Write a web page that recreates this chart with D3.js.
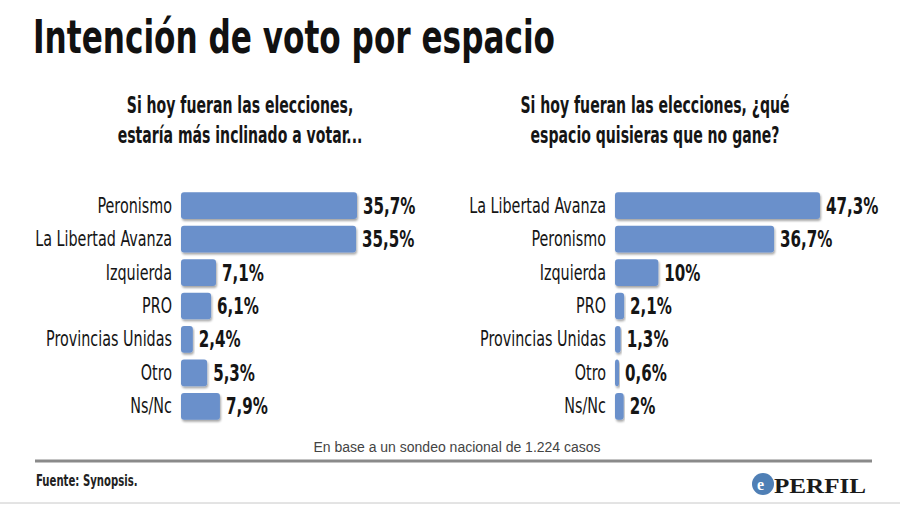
<!DOCTYPE html>
<html><head><meta charset="utf-8">
<script src="https://cdn.jsdelivr.net/npm/d3@7"></script>
<style>body{margin:0;background:#fff}svg{display:block}</style>
</head><body><svg id="c" width="900" height="505"></svg>
<script>
const leftCats=["Peronismo","La Libertad Avanza","Izquierda","PRO","Provincias Unidas","Otro","Ns/Nc"];
const leftVals=[35.7,35.5,7.1,6.1,2.4,5.3,7.9];
const leftLabels=["35,7%","35,5%","7,1%","6,1%","2,4%","5,3%","7,9%"];
const rightCats=["La Libertad Avanza","Peronismo","Izquierda","PRO","Provincias Unidas","Otro","Ns/Nc"];
const rightVals=[47.3,36.7,10,2.1,1.3,0.6,2];
const rightLabels=["47,3%","36,7%","10%","2,1%","1,3%","0,6%","2%"];

const svg=d3.select("#c");
const F="'DejaVu Sans Condensed','DejaVu Sans',sans-serif";
const defs=svg.append("defs");
const f=defs.append("filter").attr("id","sh").attr("x","-5%").attr("y","-20%").attr("width","115%").attr("height","160%");
f.append("feDropShadow").attr("dx",1).attr("dy",2).attr("stdDeviation",1.2).attr("flood-color","#000").attr("flood-opacity",0.35);

function T(parent,x,y,str,o){
  const g=parent.append("g").attr("transform",`translate(${x},${y}) scale(${o.sx||1},1)`);
  return g.append("text").attr("text-anchor",o.anchor||"start").attr("font-family",o.family||F)
    .attr("font-weight",o.bold?"bold":"normal").attr("font-size",o.size).attr("fill",o.fill||"#151515").text(str);
}

svg.append("text").attr("x",33).attr("y",53).attr("font-family",F).attr("font-weight","bold")
 .attr("font-size",46).attr("fill","#111").attr("textLength",522).attr("lengthAdjust","spacingAndGlyphs")
 .text("Intención de voto por espacio");

function panel(cats,vals,labels,x0,xMaxPx,maxV,cx,sub){
  const x=d3.scaleLinear().domain([0,maxV]).range([x0,xMaxPx]);
  const y=d3.scaleBand().domain(cats).range([189,423]).paddingInner(0.2).paddingOuter(0.1);
  sub.forEach((s,i)=>T(svg,cx,113+i*30,s,{anchor:"middle",bold:true,size:23,sx:0.68}));
  const g=svg.append("g");
  g.selectAll("rect").data(vals).join("rect").attr("x",x0).attr("y",(d,i)=>y(cats[i]))
   .attr("width",d=>Math.max(4,x(d)-x0)).attr("height",y.bandwidth()).attr("rx",3)
   .attr("fill","#6a90cb").attr("filter","url(#sh)");
  cats.forEach(c=>T(g,x0-9,y(c)+y.bandwidth()/2+7,c,{anchor:"end",size:21,sx:0.76}));
  vals.forEach((d,i)=>T(g,x0+Math.max(4,x(d)-x0)+6,y(cats[i])+y.bandwidth()/2+8,labels[i],{bold:true,size:23,sx:0.73}));
}
panel(leftCats,leftVals,leftLabels,181,357,35.7,240,["Si hoy fueran las elecciones,","estaría más inclinado a votar..."]);
panel(rightCats,rightVals,rightLabels,615,820,47.3,655,["Si hoy fueran las elecciones, ¿qué","espacio quisieras que no gane?"]);

svg.append("text").attr("x",457).attr("y",452).attr("text-anchor","middle").attr("font-family","'Liberation Sans',Arial,sans-serif")
 .attr("font-size",14).attr("fill","#444").text("En base a un sondeo nacional de 1.224 casos");
svg.append("line").attr("x1",35).attr("x2",872).attr("y1",461).attr("y2",461).attr("stroke","#8a8a8a").attr("stroke-width",3);
T(svg,36,486,"Fuente: Synopsis.",{bold:true,size:15,sx:0.75,fill:"#222"});
svg.append("circle").attr("cx",763).attr("cy",484).attr("r",11).attr("fill","#4f7fb5");
svg.append("text").attr("x",757).attr("y",490).attr("font-family","serif").attr("font-weight","bold").attr("font-size",16).attr("fill","#fff").text("e");
svg.append("text").attr("x",774).attr("y",493).attr("font-family","'Liberation Serif',serif").attr("font-weight","bold")
 .attr("font-size",22).attr("fill","#1a1a1a").attr("textLength",92).attr("lengthAdjust","spacingAndGlyphs").text("PERFIL");
svg.append("line").attr("x1",0).attr("x2",900).attr("y1",503).attr("y2",503).attr("stroke","#c8c8c8").attr("stroke-width",1);
</script></body></html>
